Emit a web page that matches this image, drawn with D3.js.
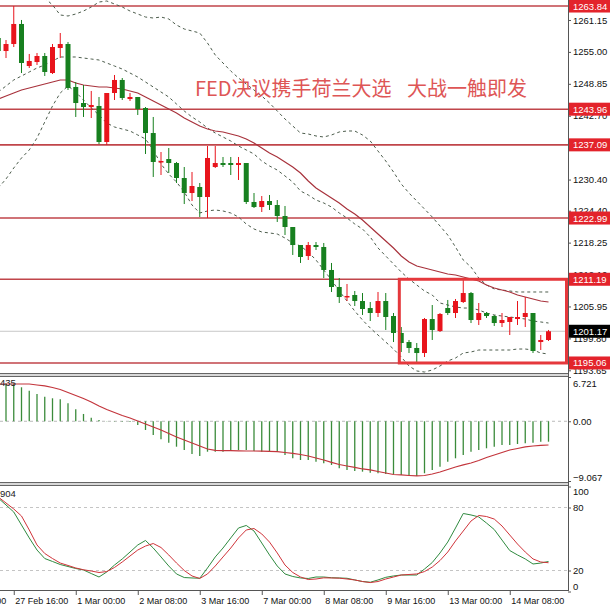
<!DOCTYPE html>
<html>
<head>
<meta charset="utf-8">
<script src="https://cdnjs.cloudflare.com/ajax/libs/d3/7.8.5/d3.min.js"></script>
<style>
body{margin:0;background:#fff;}
text{font-family:"Liberation Sans",Arial,sans-serif;}
</style>
</head>
<body>
<div id="container"></div>
<script>
let w = 610;
let h = 612;
let plotRight = 568;

///////////// data (H4 gold)
let opens = [1257.68,1255.17,1256.52,1260.38,1252.28,1253.05,1254.21,1250.93,1255.75,1256.52,
  1248.24,1245.15,1244.38,1244.58,1237.64,1247.08,1249.59,1245.92,1246.31,1244.19,
  1239.37,1233.79,1234.36,1233.59,1230.70,1227.81,1228.97,1227.04,1232.82,1233.59,
  1233.59,1233.21,1233.59,1226.08,1225.11,1226.27,1225.50,1223.38,1221.26,1217.79,
  1215.67,1217.79,1217.41,1212.98,1209.70,1207.77,1208.16,1207.00,1205.65,1204.69,
  1207.00,1204.11,1200.84,1199.10,1197.95,1196.98,1203.53,1201.22,1205.65,1204.69,
  1206.81,1208.54,1203.34,1204.69,1204.11,1202.76,1202.96,1203.53,1203.92,1204.69,
  1199.10,1199.49];
let highs = [1258.26,1257.29,1263.84,1261.15,1254.60,1254.79,1254.79,1256.52,1258.64,1256.91,
  1249.20,1248.62,1247.47,1246.31,1247.08,1250.55,1249.97,1247.08,1246.31,1244.38,
  1242.46,1235.71,1236.48,1233.79,1232.82,1231.86,1229.74,1236.87,1236.87,1234.75,
  1234.75,1234.75,1233.59,1227.81,1227.23,1227.43,1226.46,1225.31,1221.26,1217.79,
  1218.37,1218.37,1218.18,1214.33,1211.43,1210.28,1208.93,1208.54,1206.81,1208.74,
  1208.54,1204.69,1201.99,1199.49,1198.91,1203.73,1206.23,1204.69,1207.20,1207.39,
  1211.19,1208.74,1206.62,1204.88,1204.31,1204.69,1203.92,1207.00,1207.77,1204.69,
  1200.45,1201.42];
let lows = [1254.40,1253.82,1255.94,1250.93,1251.90,1252.48,1250.36,1250.74,1253.82,1247.66,
  1242.46,1242.46,1242.26,1237.25,1237.09,1245.73,1245.73,1245.54,1242.84,1235.33,
  1230.90,1231.28,1231.67,1229.74,1225.69,1226.27,1223.19,1222.99,1232.63,1232.82,
  1231.28,1230.32,1225.69,1224.92,1224.15,1224.54,1222.23,1219.72,1215.87,1214.33,
  1214.90,1216.83,1211.43,1208.74,1206.62,1207.00,1206.04,1204.31,1203.15,1203.92,
  1201.42,1199.10,1197.18,1196.98,1195.06,1196.21,1199.49,1201.03,1204.31,1203.73,
  1206.62,1202.76,1202.38,1203.73,1202.19,1201.99,1200.45,1202.38,1201.99,1196.98,
  1197.56,1199.30];
let closes = [1255.17,1256.52,1260.38,1252.86,1253.25,1254.21,1251.13,1255.94,1256.52,1248.04,
  1245.15,1244.38,1244.77,1237.64,1247.08,1249.59,1246.12,1246.31,1244.00,1239.37,
  1233.79,1233.98,1233.59,1230.70,1227.81,1229.16,1227.04,1234.56,1233.59,1233.21,
  1233.21,1233.59,1226.08,1225.11,1226.27,1225.50,1223.38,1221.26,1217.79,1215.48,
  1217.79,1217.41,1212.98,1209.70,1207.77,1207.97,1207.00,1205.46,1204.69,1207.00,
  1203.92,1200.84,1198.91,1197.95,1196.98,1203.53,1201.42,1204.50,1204.69,1207.00,
  1208.54,1203.34,1204.69,1204.11,1202.76,1203.34,1203.92,1203.92,1204.69,1197.37,
  1199.49,1201.17];

let bbUpper = [1270.78,1269.82,1268.85,1268.08,1267.31,1266.16,1265.39,1264.04,1262.11,1261.92,
  1262.30,1262.88,1263.65,1264.61,1264.81,1264.23,1263.65,1262.88,1262.30,1261.72,
  1261.53,1261.72,1261.34,1260.18,1259.41,1259.03,1258.64,1256.71,1254.40,1252.86,
  1251.32,1249.97,1248.81,1247.66,1246.50,1245.15,1243.61,1242.07,1240.72,1239.37,
  1239.18,1238.80,1238.60,1238.99,1239.57,1239.76,1239.76,1238.99,1237.83,1235.90,
  1233.98,1231.86,1229.55,1227.81,1226.27,1224.73,1223.19,1221.45,1219.72,1217.41,
  1214.90,1213.55,1211.43,1210.09,1209.32,1209.12,1208.93,1208.74,1208.74,1208.74,
  1208.74,1208.74];
let bbMiddle = [1247.27,1248.43,1249.59,1250.36,1251.13,1251.90,1252.48,1253.25,1254.02,1254.02,
  1254.02,1253.82,1253.63,1253.44,1252.86,1252.28,1251.70,1250.93,1250.16,1249.20,
  1248.24,1247.27,1246.31,1244.96,1243.61,1242.46,1241.49,1240.34,1239.37,1238.60,
  1237.83,1236.87,1236.10,1235.33,1233.98,1233.02,1232.24,1231.09,1229.93,1228.20,
  1227.43,1226.46,1225.89,1225.11,1223.96,1223.00,1221.84,1220.88,1219.33,1217.22,
  1215.67,1214.13,1212.59,1211.24,1210.09,1208.93,1208.16,1206.62,1206.23,1205.85,
  1205.65,1205.65,1205.27,1204.69,1204.31,1204.11,1203.92,1203.73,1203.53,1203.15,
  1202.96,1202.76];
let bbLower = [1228.78,1230.51,1232.63,1234.56,1236.10,1238.41,1241.49,1244.58,1247.08,1248.43,
  1247.27,1245.73,1244.19,1242.84,1241.30,1240.53,1240.14,1239.76,1238.99,1238.22,
  1236.10,1233.40,1231.47,1229.93,1228.01,1225.50,1223.96,1224.35,1224.54,1224.35,
  1223.96,1223.19,1221.84,1220.88,1220.30,1220.11,1219.91,1219.14,1218.18,1217.60,
  1216.44,1214.90,1212.98,1211.05,1208.93,1207.00,1205.07,1203.34,1201.80,1200.45,
  1199.10,1197.75,1196.21,1194.48,1193.52,1193.32,1193.71,1194.48,1195.44,1196.02,
  1196.98,1197.18,1197.56,1197.56,1197.56,1197.56,1197.56,1197.75,1197.75,1197.56,
  1196.98,1196.79];
let maLine = [1245.92,1246.50,1247.08,1247.66,1248.04,1248.43,1248.81,1249.20,1249.59,1249.59,
  1249.01,1248.62,1248.43,1248.24,1248.24,1248.04,1247.85,1247.47,1247.08,1246.31,
  1245.54,1244.77,1244.00,1243.23,1242.26,1241.49,1240.72,1240.14,1239.76,1239.57,
  1239.18,1238.80,1238.22,1237.45,1236.48,1235.52,1234.75,1233.79,1232.82,1231.67,
  1230.12,1228.78,1227.81,1226.85,1225.89,1224.73,1223.77,1222.61,1221.26,1219.91,
  1218.56,1217.22,1215.67,1214.52,1213.75,1213.36,1212.98,1212.59,1212.21,1212.01,
  1211.63,1211.24,1210.86,1210.09,1209.51,1209.12,1208.74,1208.16,1207.77,1207.39,
  1207.00,1206.81];

let macdHist = [5.77,5.77,5.77,5.16,4.65,4.14,3.73,3.49,3.34,2.73,
  1.82,1.11,0.55,0.20,0.05,-0.05,-0.08,-0.12,-0.56,-1.32,
  -2.08,-2.73,-3.25,-3.86,-4.36,-4.96,-5.27,-4.62,-4.62,-4.62,
  -4.36,-4.36,-4.36,-4.51,-4.62,-4.62,-4.62,-5.12,-5.62,-5.88,
  -5.88,-6.13,-6.38,-6.63,-7.14,-7.39,-7.55,-7.65,-7.80,-7.89,
  -8.00,-8.05,-8.15,-8.30,-8.30,-7.89,-7.39,-6.89,-6.13,-5.62,
  -5.12,-4.62,-4.36,-4.10,-3.86,-3.60,-3.60,-3.45,-3.34,-3.25,
  -3.10,-3.10];
let macdSignal = [5.66,5.66,5.66,5.66,5.66,5.51,5.36,5.13,4.83,4.37,
  3.92,3.46,2.93,2.32,1.79,1.34,0.88,0.50,0.05,-0.41,
  -0.87,-1.32,-1.85,-2.38,-2.84,-3.29,-3.75,-4.21,-4.43,-4.46,
  -4.46,-4.48,-4.51,-4.51,-4.54,-4.57,-4.62,-4.74,-4.86,-5.04,
  -5.27,-5.57,-5.88,-6.25,-6.56,-6.79,-7.01,-7.24,-7.39,-7.62,
  -7.85,-8.08,-8.15,-8.23,-8.30,-8.23,-8.00,-7.70,-7.32,-6.94,
  -6.63,-6.33,-5.95,-5.50,-5.12,-4.74,-4.36,-4.13,-3.90,-3.75,
  -3.67,-3.60];

let stochMain = [89.0,82.4,75.7,63.3,51.0,39.5,31.4,28.6,25.7,23.8,
  21.9,20.5,17.1,13.8,18.6,25.2,31.0,37.6,44.3,48.6,
  41.4,32.9,24.3,16.7,13.3,12.9,12.6,22.4,32.9,41.4,
  51.0,60.5,62.9,57.6,46.2,34.8,24.3,16.7,14.3,12.9,
  12.4,13.8,13.8,13.1,12.9,12.6,11.0,9.5,8.8,11.0,
  13.5,14.8,15.7,15.7,15.7,21.4,27.6,36.7,47.1,60.5,
  74.3,72.9,71.0,65.2,59.0,49.0,39.0,34.8,31.0,26.2,
  27.1,28.6];
let stochSignal = [90.0,84.3,78.6,71.9,58.6,44.3,36.2,31.4,27.1,24.8,
  22.4,20.7,19.5,18.1,19.0,22.9,28.1,33.8,39.5,43.3,
  45.7,41.9,34.8,27.1,20.0,14.8,12.4,16.7,24.3,32.9,
  41.4,51.0,58.6,60.0,54.8,47.1,36.7,25.2,18.1,13.8,
  11.4,11.9,13.0,12.9,12.7,11.9,11.0,9.5,8.5,9.5,
  11.9,13.8,15.7,16.2,16.7,19.0,23.3,29.5,37.6,48.1,
  57.6,67.1,72.4,71.4,69.0,62.4,53.8,45.2,37.6,31.0,
  28.1,27.4];

let priceTicks = [1261.15,1255.00,1248.85,1242.70,1236.55,1230.40,1224.40,1218.25,1212.10,1205.95,1199.80,1193.65];
let levelLines = [1263.84,1243.96,1237.09,1222.99,1211.19,1195.06];
let lastPrice = 1201.17;
let macdTicks = [6.721,0,-9.067];
let stochTicks = [100,80,20,0];
let stochLevels = [80,20];
let timeTicks = [-6,2,10,18,26,34,42,50,58,66];
let timeLabels = ["24 Feb 08:00","27 Feb 16:00","1 Mar 00:00","2 Mar 08:00","3 Mar 16:00","7 Mar 00:00","8 Mar 08:00","9 Mar 16:00","13 Mar 00:00","14 Mar 08:00"];
let titleParts = ["FED决议携手荷兰大选", "大战一触即发"];
let boxFrom = 1211.19, boxTo = 1195.06, boxBarFrom = 51.75;

let viz = d3.select("#container")
  .append("svg")
    .attr("width", w)
    .attr("height", h)
    .style("background-color", "white")
;

////////////// scales
let xScale = d3.scaleLinear().domain([0, 71]).range([-1.75, 548.5]);
let yPrice = d3.scaleLinear().domain([1193.13, 1265.0]).range([373, 0]);
let yMacd = d3.scaleLinear().domain([-9.067, 6.721]).range([481, 377]);
let yStoch = d3.scaleLinear().domain([0, 100]).range([591.5, 486.5]);

let defs = viz.append("defs");
defs.append("clipPath").attr("id", "clipMain").append("rect").attr("x", 0).attr("y", 0).attr("width", plotRight).attr("height", 373);
defs.append("clipPath").attr("id", "clipMacd").append("rect").attr("x", 0).attr("y", 378).attr("width", plotRight).attr("height", 104);
defs.append("clipPath").attr("id", "clipStoch").append("rect").attr("x", 0).attr("y", 486).attr("width", plotRight).attr("height", 104);

let bars = opens.map(function(o, i){
  return {i: i, o: o, hi: highs[i], lo: lows[i], c: closes[i]};
});

////////////// main panel
let main = viz.append("g").attr("clip-path", "url(#clipMain)");

main.append("line")
  .attr("x1", 0).attr("x2", plotRight)
  .attr("y1", yPrice(lastPrice)).attr("y2", yPrice(lastPrice))
  .attr("stroke", "#c8c8c8").attr("stroke-width", 1);

main.selectAll(".level").data(levelLines).enter()
  .append("line")
  .attr("class", "level")
  .attr("x1", 0).attr("x2", plotRight)
  .attr("y1", d => yPrice(d)).attr("y2", d => yPrice(d))
  .attr("stroke", "#c0454a").attr("stroke-width", 1.6);

function priceLine(arr){
  return d3.line().x((d, i) => xScale(i)).y(d => yPrice(d))(arr);
}
[bbUpper, bbMiddle, bbLower].forEach(function(band){
  main.append("path").attr("d", priceLine(band))
    .attr("fill", "none").attr("stroke", "#4d5d4d").attr("stroke-width", 1)
    .attr("stroke-dasharray", "3,3");
});
main.append("path").attr("d", priceLine(maLine))
  .attr("fill", "none").attr("stroke", "#a8323c").attr("stroke-width", 1.2);

function candleColor(d){
  if (d.c >= d.o){
    return "#e8141c"
  }
  else{
    return "#17801f"
  }
}

let candles = main.selectAll(".candle").data(bars).enter()
  .append("g").attr("class", "candle");
candles.append("line")
  .attr("x1", d => xScale(d.i)).attr("x2", d => xScale(d.i))
  .attr("y1", d => yPrice(d.hi)).attr("y2", d => yPrice(d.lo))
  .attr("stroke", candleColor).attr("stroke-width", 1);
candles.append("rect")
  .attr("x", d => xScale(d.i) - 2.5)
  .attr("width", 5)
  .attr("y", d => yPrice(Math.max(d.o, d.c)))
  .attr("height", d => Math.max(1.5, Math.abs(yPrice(d.o) - yPrice(d.c))))
  .attr("fill", candleColor);

// headline, two phrases with a wide gap
main.selectAll(".headline").data(titleParts).enter()
  .append("text").attr("class", "headline")
  .attr("x", (d, i) => i == 0 ? 195 : 407)
  .attr("y", 96)
  .attr("font-size", 20)
  .style("font-family", "'Noto Sans CJK SC','Noto Sans',sans-serif")
  .attr("fill", "#de5656")
  .text(d => d);

// highlight box round the last few days
main.append("rect")
  .attr("x", xScale(boxBarFrom))
  .attr("y", yPrice(boxFrom))
  .attr("width", plotRight - 1.5 - xScale(boxBarFrom))
  .attr("height", yPrice(boxTo) - yPrice(boxFrom))
  .attr("fill", "none").attr("stroke", "#e5383c").attr("stroke-width", 3);

////////////// MACD panel
let macdG = viz.append("g").attr("clip-path", "url(#clipMacd)");
macdG.append("line")
  .attr("x1", 0).attr("x2", plotRight)
  .attr("y1", yMacd(0)).attr("y2", yMacd(0))
  .attr("stroke", "#bbbbbb").attr("stroke-dasharray", "3,3");
macdG.selectAll(".hist").data(macdHist).enter()
  .append("line").attr("class", "hist")
  .attr("x1", (d, i) => xScale(i)).attr("x2", (d, i) => xScale(i))
  .attr("y1", yMacd(0)).attr("y2", d => yMacd(d))
  .attr("stroke", "#3b8b3b").attr("stroke-width", 1.3);
macdG.append("path")
  .attr("d", d3.line().x((d, i) => xScale(i)).y(d => yMacd(d))(macdSignal))
  .attr("fill", "none").attr("stroke", "#c3353c").attr("stroke-width", 1.2);
viz.append("text").attr("x", 0).attr("y", 386).attr("font-size", 9.5).attr("fill", "#222").text("435");

////////////// Stochastic panel
let stochG = viz.append("g").attr("clip-path", "url(#clipStoch)");
stochG.selectAll(".lvl").data(stochLevels).enter()
  .append("line").attr("class", "lvl")
  .attr("x1", 0).attr("x2", plotRight)
  .attr("y1", d => yStoch(d)).attr("y2", d => yStoch(d))
  .attr("stroke", "#c4c4c4").attr("stroke-dasharray", "3,3");
stochG.append("path")
  .attr("d", d3.line().x((d, i) => xScale(i)).y(d => yStoch(d))(stochMain))
  .attr("fill", "none").attr("stroke", "#2f8a3f").attr("stroke-width", 1);
stochG.append("path")
  .attr("d", d3.line().x((d, i) => xScale(i)).y(d => yStoch(d))(stochSignal))
  .attr("fill", "none").attr("stroke", "#d0343a").attr("stroke-width", 1);
viz.append("text").attr("x", 0).attr("y", 497).attr("font-size", 9.5).attr("fill", "#222").text("904");

////////////// frames
[373.5, 376.5, 482.5, 485.5].forEach(function(y){
  viz.append("line").attr("x1", 0).attr("x2", plotRight).attr("y1", y).attr("y2", y)
    .attr("stroke", "#666").attr("stroke-width", 1.2);
});
viz.append("rect").attr("x", 0).attr("y", 374.2).attr("width", plotRight).attr("height", 1.6).attr("fill", "#cfcfcf");
viz.append("rect").attr("x", 0).attr("y", 483.2).attr("width", plotRight).attr("height", 1.6).attr("fill", "#cfcfcf");
viz.append("line").attr("x1", 0).attr("x2", plotRight).attr("y1", 590.5).attr("y2", 590.5).attr("stroke", "#555");
viz.append("line").attr("x1", plotRight + 0.5).attr("x2", plotRight + 0.5).attr("y1", 0).attr("y2", 591).attr("stroke", "#555");

////////////// axes
function styleAxis(g){
  g.select(".domain").remove();
  g.selectAll("text").attr("font-size", 9.5).attr("fill", "#111").style("font-family", "'Liberation Sans',Arial,sans-serif");
  g.selectAll("line").attr("stroke", "#555");
}

let priceAxis = d3.axisRight(yPrice).tickValues(priceTicks).tickSize(3).tickPadding(2).tickFormat(d3.format(".2f"));
let priceAxisGroup = viz.append("g").attr("transform", "translate(" + plotRight + ",0)").call(priceAxis);
styleAxis(priceAxisGroup);

let macdAxis = d3.axisRight(yMacd).tickValues(macdTicks).tickSize(3).tickPadding(2)
  .tickFormat(d => d === 0 ? "0.00" : d3.format(".3f")(d));
let macdAxisGroup = viz.append("g").attr("transform", "translate(" + plotRight + ",0)").call(macdAxis);
styleAxis(macdAxisGroup);
macdAxisGroup.selectAll("text").attr("y", d => d > 0 ? 6 : (d < 0 ? -4 : 0));

let stochAxis = d3.axisRight(yStoch).tickValues(stochTicks).tickSize(3).tickPadding(2);
let stochAxisGroup = viz.append("g").attr("transform", "translate(" + plotRight + ",0)").call(stochAxis);
styleAxis(stochAxisGroup);
stochAxisGroup.selectAll("text").attr("y", d => d === 100 ? 5 : (d === 0 ? -5.5 : 0));

// level labels on the price scale
let tags = viz.selectAll(".tag").data(levelLines).enter().append("g").attr("class", "tag");
tags.append("rect")
  .attr("x", plotRight + 1).attr("y", d => yPrice(d) - 6.5)
  .attr("width", 41).attr("height", 13).attr("fill", "#e3232b");
tags.append("text")
  .attr("x", plotRight + 5).attr("y", d => yPrice(d) + 3.5)
  .attr("font-size", 9.5).attr("fill", "white").text(d => d.toFixed(2));

let lastTag = viz.append("g");
lastTag.append("rect").attr("x", plotRight + 1).attr("y", yPrice(lastPrice) - 6.5)
  .attr("width", 41).attr("height", 13).attr("fill", "#000");
lastTag.append("text").attr("x", plotRight + 5).attr("y", yPrice(lastPrice) + 3.5)
  .attr("font-size", 9.5).attr("fill", "white").text(lastPrice.toFixed(2));

let timeAxis = d3.axisBottom(xScale).tickValues(timeTicks).tickSize(4).tickPadding(3)
  .tickFormat((d, i) => timeLabels[i]);
let timeAxisGroup = viz.append("g").attr("transform", "translate(0,591)").call(timeAxis);
styleAxis(timeAxisGroup);
timeAxisGroup.selectAll("text").attr("text-anchor", "start").attr("x", 1).attr("font-size", 9);
</script>
</body>
</html>
